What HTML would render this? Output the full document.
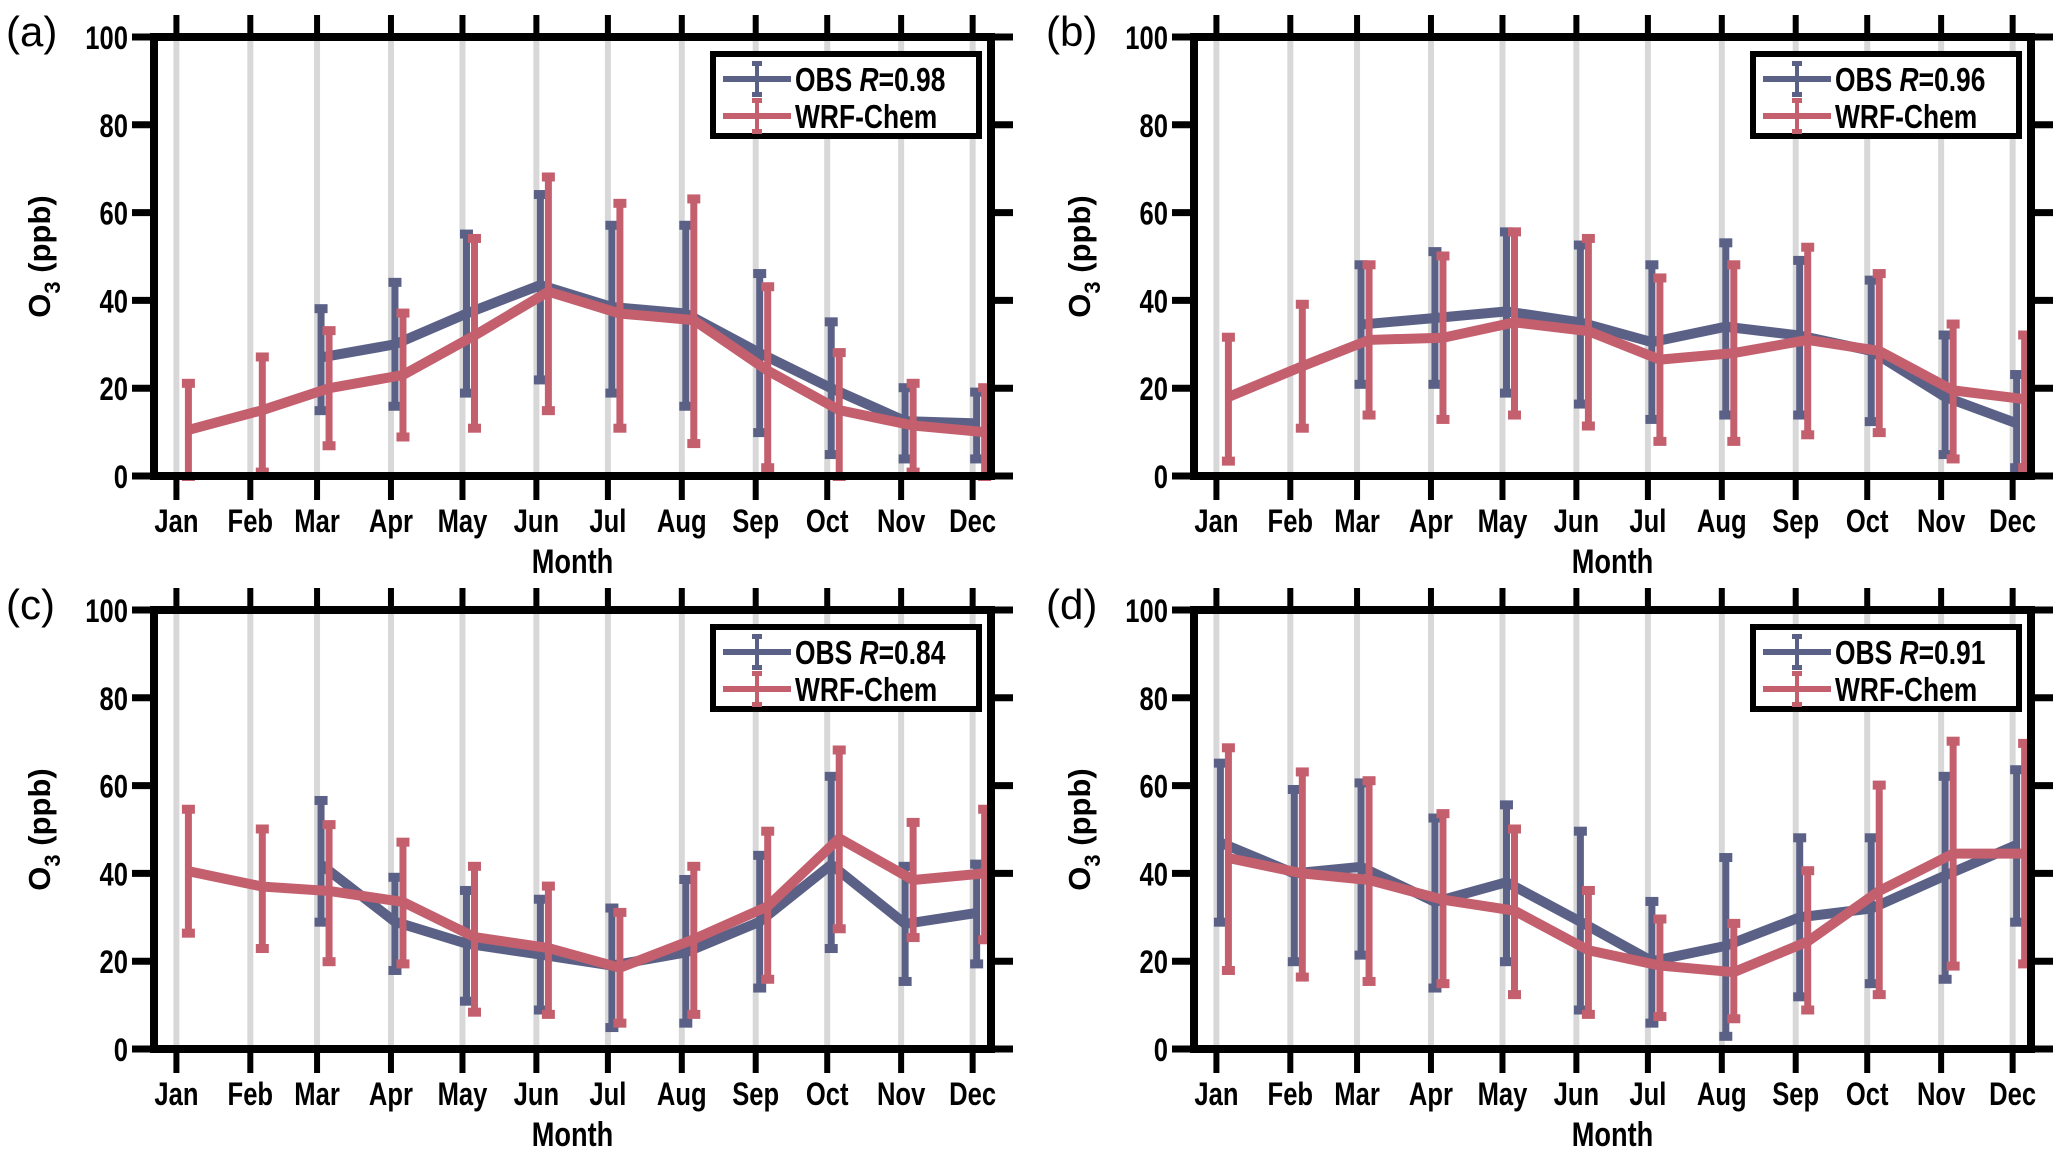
<!DOCTYPE html>
<html><head><meta charset="utf-8"><style>
html,body{margin:0;padding:0;background:#fff;}
svg{display:block;}
text{font-family:"Liberation Sans",Arial,sans-serif;}
</style></head><body>
<svg id="fig" width="2067" height="1159" viewBox="0 0 2067 1159" xmlns="http://www.w3.org/2000/svg"></svg>
<script>
const months = ["Jan","Feb","Mar","Apr","May","Jun","Jul","Aug","Sep","Oct","Nov","Dec"];
const monthDays = [1,32,60,91,121,152,182,213,244,274,305,335];
const yTicks = [0,20,40,60,80,100];
const panelLetters = ["(a)","(b)","(c)","(d)"];
const rValues = ["0.98","0.96","0.84","0.91"];
const obsA = [null,null,27,30,37,43.5,38.5,37,28,20,12.5,12];
const obsALo = [null,null,15,16,19,22,19,16,10,5,4,4];
const obsAHi = [null,null,38,44,55,64,57,57,46,35,20,19];
const wrfA = [10.5,15,20,23,32,42,37,35.5,24,15,11.5,10];
const wrfALo = [0,1,7,9,11,15,11,7.5,2,0,1,0];
const wrfAHi = [21,27,33,37,54,68,62,63,43,28,21,20];
const obsB = [null,null,34.5,36,37.5,35,30.5,34,32,28.5,18,12];
const obsBLo = [null,null,21,21,19,16.5,13,14,14,12.5,5,2];
const obsBHi = [null,null,48,51,55.5,52.5,48,53,49,44.5,32,23];
const wrfB = [18,25,31,31.5,35,33,26.5,28,31,28.5,19.5,17.5];
const wrfBLo = [3.5,11,14,13,14,11.5,8,8,9.5,10,4,2];
const wrfBHi = [31.5,39,48,50,55.5,54,45,48,52,46,34.5,32];
const obsC = [null,null,42,29,24,21.5,19,22,29,42,28.5,31];
const obsCLo = [null,null,29,18,11,9,5,6,14,23,15.5,19.5];
const obsCHi = [null,null,56.5,39,36,34,32,38.5,44,62,41.5,42];
const wrfC = [40.5,37,36,33.5,25.5,23,18.5,25,32.5,48,38.5,40];
const wrfCLo = [26.5,23,20,19.5,8.5,8,6,8,16,27.5,25.5,25];
const wrfCHi = [54.5,50,51,47,41.5,37,31,41.5,49.5,68,51.5,54.5];
const obsD = [47,40,41.5,33.5,38,29,20,23.5,30,32,39.5,46.5];
const obsDLo = [29,20,21.5,14,20,9,6,3,12,15,16,29];
const obsDHi = [65,59,60.5,52.5,55.5,49.5,33.5,43.5,48,48,62,63.5];
const wrfD = [43.5,40,38.5,34,31.5,22.5,19,17.5,24.5,36,44.5,44.5];
const wrfDLo = [18,16.5,15.5,15,12.5,8,7.5,7,9,12.5,19,19.5];
const wrfDHi = [68.5,63,61,53.5,50,36,29.5,28.5,40.5,60,70,69.5];

const OBS_C = "#5b6186", WRF_C = "#c45f6e";
const NS = "http://www.w3.org/2000/svg";
const svg = document.getElementById("fig");
function mk(tag, attrs, parent, txt){
  const e = document.createElementNS(NS, tag);
  for (const k in attrs) e.setAttribute(k, attrs[k]);
  if (txt !== undefined) e.textContent = txt;
  (parent||svg).appendChild(e);
  return e;
}
// condensed text: returns the text element
function ctext(x, y, anchor, size, parent, str){
  const w = mk("g",{transform:`translate(${x},${y}) scale(0.8,1)`},parent);
  return mk("text",{x:0,y:0,"text-anchor":anchor,"font-size":size,"font-weight":"bold"},w,str);
}
const panels = [
  {L:154,R:991,T:37,B:476, obs:[obsA,obsALo,obsAHi], wrf:[wrfA,wrfALo,wrfAHi]},
  {L:1194,R:2031,T:37,B:476, obs:[obsB,obsBLo,obsBHi], wrf:[wrfB,wrfBLo,wrfBHi]},
  {L:154,R:991,T:610,B:1049, obs:[obsC,obsCLo,obsCHi], wrf:[wrfC,wrfCLo,wrfCHi]},
  {L:1194,R:2031,T:610,B:1049, obs:[obsD,obsDLo,obsDHi], wrf:[wrfD,wrfDLo,wrfDHi]}
];
panels.forEach((p,pi)=>{
  const g = mk("g",{});
  
  
  const xs = d => p.L + (d+8.4)/351.1*(p.R-p.L);
  const ys = v => p.B - v/100*(p.B-p.T);
  monthDays.forEach((d,i)=>{
    const l = mk("line",{x1:xs(d),x2:xs(d),y1:p.T,y2:p.B,stroke:"#d8d8d8","stroke-width":6},g);
    
    
  });
  [[p.obs,OBS_C,4,"obs"],[p.wrf,WRF_C,12,"wrf"]].forEach(([s,col,off,nm])=>{
    const [m,lo,hi] = s;
    let pts=[];
    m.forEach((v,i)=>{ if(v!==null) pts.push([xs(monthDays[i])+off, ys(v)]); });
    const pl = mk("polyline",{points:pts.map(q=>q.join(",")).join(" "),fill:"none",stroke:col,"stroke-width":10,"stroke-linejoin":"miter"},g);
    
    
    m.forEach((v,i)=>{
      if(v===null) return;
      const x = xs(monthDays[i])+off;
      const eb = mk("g",{},g);
      
      
      mk("line",{x1:x,x2:x,y1:ys(lo[i]),y2:ys(hi[i]),stroke:col,"stroke-width":7},eb);
      mk("rect",{x:x-6.5,y:ys(lo[i])-4,width:13,height:9,fill:col},eb);
      mk("rect",{x:x-6.5,y:ys(hi[i])-5,width:13,height:9,fill:col},eb);
    });
  });
  const box = mk("rect",{x:p.L,y:p.T,width:p.R-p.L,height:p.B-p.T,fill:"none",stroke:"#000","stroke-width":8},g);
  
  
  monthDays.forEach((d,i)=>{
    const x = xs(d);
    mk("line",{x1:x,x2:x,y1:p.T-22,y2:p.T,stroke:"#000","stroke-width":6},g);
    mk("line",{x1:x,x2:x,y1:p.B,y2:p.B+24,stroke:"#000","stroke-width":6},g);
    const t = ctext(x, p.B+56, "middle", 32, g, months[i]);
    
    
  });
  yTicks.forEach(v=>{
    const y = ys(v);
    mk("line",{x1:p.L-22,x2:p.L,y1:y,y2:y,stroke:"#000","stroke-width":7},g);
    mk("line",{x1:p.R,x2:p.R+22,y1:y,y2:y,stroke:"#000","stroke-width":7},g);
    const t = ctext(p.L-26, y+12, "end", 32, g, String(v));
    
    
  });
  const xt = ctext((p.L+p.R)/2, p.B+97, "middle", 34, g, "Month");
  
  
  const cy = (p.T+p.B)/2;
  const yt = mk("text",{x:0,y:0,transform:`translate(${p.L-104},${cy}) rotate(-90)`,"text-anchor":"middle","font-size":31,"font-weight":"bold"},g);
  
  
  yt.innerHTML = 'O<tspan dy="10" font-size="22">3</tspan><tspan dy="-10"> (ppb)</tspan>';
  const pl = mk("text",{x:p.L-148,y:p.T+9,"font-size":42},g,panelLetters[pi]);
  
  
  const lx = p.R-278, ly = p.T+17;
  const lg = mk("g",{},g);
  
  
  mk("rect",{x:lx,y:ly,width:266,height:82,fill:"#fff",stroke:"#000","stroke-width":6},lg);
  [[OBS_C,25],[WRF_C,62]].forEach(([col,dy],k)=>{
    const e = mk("g",{},lg);
    
    
    mk("line",{x1:lx+10,x2:lx+78,y1:ly+dy,y2:ly+dy,stroke:col,"stroke-width":6},e);
    mk("line",{x1:lx+44,x2:lx+44,y1:ly+dy-15,y2:ly+dy+15,stroke:col,"stroke-width":4},e);
    mk("rect",{x:lx+39,y:ly+dy-18,width:10,height:5,fill:col},e);
    mk("rect",{x:lx+39,y:ly+dy+13,width:10,height:5,fill:col},e);
    const w = mk("g",{transform:`translate(${lx+82},${ly+dy+12}) scale(0.8,1)`},e);
    const t = mk("text",{x:0,y:0,"font-size":33,"font-weight":"bold"},w);
    if(k===0) t.innerHTML = 'OBS <tspan font-style="italic">R</tspan>=' + rValues[pi];
    else t.textContent = "WRF-Chem";
  });
});
</script>
</body></html>
